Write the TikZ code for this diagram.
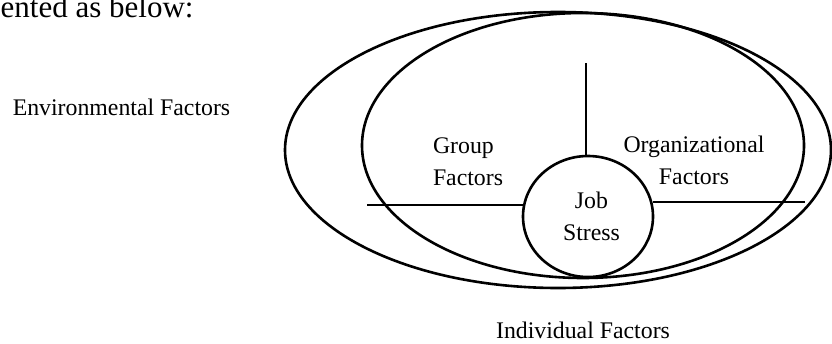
\documentclass[tikz,border=0pt]{standalone}
\usepackage{fontspec}
\setmainfont{Liberation Serif}
\usetikzlibrary{shapes.geometric}
\newcommand{\twolines}[3]{\begin{tabular}[b]{@{}#1@{}}#2\\#3\end{tabular}}
\begin{document}
\begin{tikzpicture}[x=1pt,y=-1pt,
  ring/.style={draw, ellipse, line width=2.6pt, inner sep=0pt, outer sep=0pt},
  lbl/.style={inner sep=0pt, outer sep=0pt, font=\fontsize{23.8}{32}\selectfont},
  bar/.style={line width=2.6pt}]
\useasboundingbox (0,0) rectangle (832,343);
% intro text fragment
\node[inner sep=0pt, anchor=base west, font=\fontsize{31}{36}\selectfont] (intro) at (0.5,17.5) {ented as below:};
% ellipses
\node[ring, minimum width=546pt, minimum height=276pt] (outer) at (558,150) {};
\node[ring, minimum width=442pt, minimum height=265pt] (inner) at (583,145.5) {};
\node[ring, minimum width=130pt, minimum height=121pt] (js) at (588,216.5) {};
% connectors
\coordinate (vtop) at (586,63);
\coordinate (lend) at (367,205);
\coordinate (rend) at (805,202);
\draw[bar] (vtop) -- (vtop |- js.north);
\draw[bar] (lend) -- (lend -| js.west);
\draw[bar] (rend) -- (rend -| js.east);
% labels
\node[lbl, anchor=base west] (grp) at (433,185) {\twolines{l}{Group}{Factors}};
\node[lbl, anchor=base] (org) at (694,184) {\twolines{c}{Organizational}{Factors}};
\node[lbl, anchor=base] (jst) at (591.5,240) {\twolines{c}{Job}{Stress}};
\node[lbl, anchor=base] (env) at (121.5,115) {Environmental Factors};
\node[lbl, anchor=base] (ind) at (583,338.5) {Individual Factors};
\end{tikzpicture}
\end{document}
